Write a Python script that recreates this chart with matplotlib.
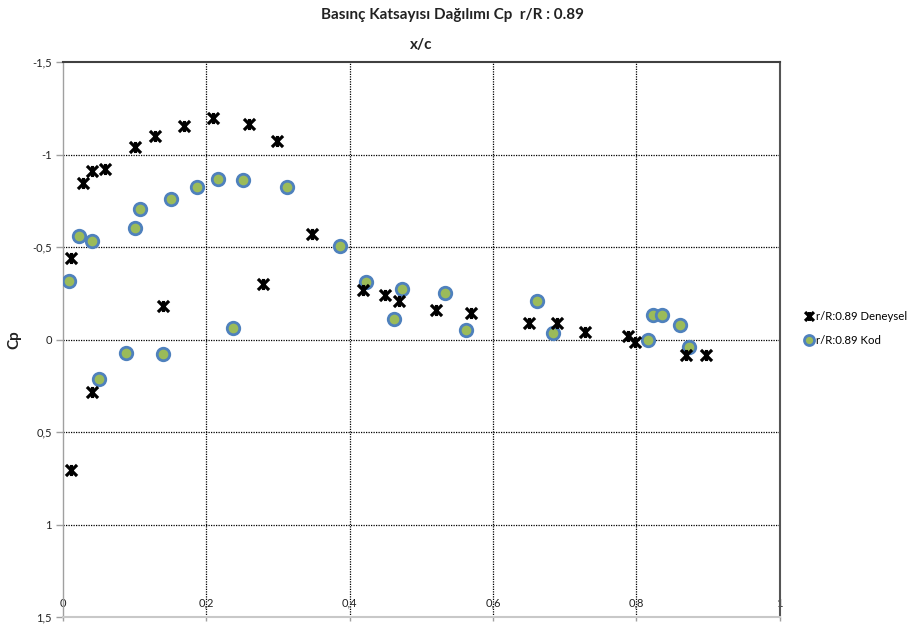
import matplotlib
matplotlib.use("Agg")
import matplotlib.pyplot as plt
from matplotlib.path import Path
from matplotlib.ticker import FixedLocator, FuncFormatter

plt.rcParams['font.family'] = ['Lato', 'DejaVu Sans']

# Measured (Deneysel) pressure coefficients, r/R = 0.89
exp_x = [0.0107, 0.0107, 0.0284, 0.040, 0.0405, 0.0586, 0.100, 0.128, 0.139,
         0.169, 0.209, 0.259, 0.2785, 0.2985, 0.348, 0.4187, 0.4494, 0.4694,
         0.520, 0.570, 0.650, 0.690, 0.729, 0.789, 0.799, 0.870, 0.898]
exp_cp = [-0.438, 0.703, -0.844, -0.911, 0.283, -0.923, -1.041, -1.102, -0.181,
          -1.156, -1.199, -1.163, -0.298, -1.071, -0.569, -0.265, -0.242, -0.206,
          -0.158, -0.145, -0.091, -0.091, -0.043, -0.018, 0.011, 0.082, 0.082]

# Computed (Kod) pressure coefficients, r/R = 0.89
code_x = [0.008, 0.0223, 0.041, 0.0502, 0.0884, 0.100, 0.1075, 0.139, 0.1507,
          0.1866, 0.2168, 0.2368, 0.2512, 0.3126, 0.386, 0.4225, 0.4615, 0.4727,
          0.5327, 0.563, 0.661, 0.6835, 0.817, 0.824, 0.836, 0.861, 0.874]
code_cp = [-0.317, -0.561, -0.531, 0.215, 0.075, -0.604, -0.706, 0.081, -0.762,
           -0.823, -0.866, -0.061, -0.860, -0.823, -0.505, -0.312, -0.111, -0.274,
           -0.249, -0.054, -0.208, -0.034, 0.0, -0.133, -0.133, -0.079, 0.041]

x_ticks = [0, 0.2, 0.4, 0.6, 0.8, 1.0]
y_ticks = [-1.5, -1.0, -0.5, 0.0, 0.5, 1.0, 1.5]

W, H = 913, 629
fig = plt.figure(figsize=(W / 100, H / 100), dpi=100)
x0, x1, y0, y1 = 63, 779.5, 62, 617
ax = fig.add_axes([x0 / W, 1 - y1 / H, (x1 - x0) / W, (y1 - y0) / H])

ax.set_xlim(0, 1)
ax.set_ylim(1.5, -1.5)

# asterisk-like marker: X with a vertical bar
star = Path([(-1, -1), (1, 1), (-1, 1), (1, -1), (0, -1), (0, 1)],
            [Path.MOVETO, Path.LINETO, Path.MOVETO, Path.LINETO, Path.MOVETO, Path.LINETO])

ax.plot(exp_x, exp_cp, linestyle='none', marker=star, markersize=8,
        markeredgewidth=2.3, color='black', label='r/R:0.89 Deneysel', zorder=4)
ax.plot(code_x, code_cp, linestyle='none', marker='o', markersize=9,
        markerfacecolor='#9BBB59', markeredgecolor='#4F81BD', markeredgewidth=2,
        label='r/R:0.89 Kod', zorder=3)

comma = FuncFormatter(lambda v, p: f"{v:g}".replace('.', ','))
ax.xaxis.set_major_locator(FixedLocator(x_ticks))
ax.yaxis.set_major_locator(FixedLocator(y_ticks))
ax.xaxis.set_major_formatter(comma)
ax.yaxis.set_major_formatter(comma)

for g in x_ticks[1:-1]:
    ax.axvline(g, color='black', lw=0.9, linestyle=(0, (1, 1)), zorder=1)
for g in y_ticks[1:-1]:
    ax.axhline(g, color='black', lw=0.9, linestyle=(0, (1, 1)), zorder=1)

ax.tick_params(axis='y', direction='out', length=5, width=1, color='#a0a0a0',
               labelsize=8, pad=3, labelcolor='#222222')
ax.tick_params(axis='x', direction='out', length=3, width=1, color='#a0a0a0',
               labelsize=8, pad=-17, labelcolor='#222222')

ax.spines['top'].set_color('#404040')
ax.spines['top'].set_linewidth(1.5)
ax.spines['right'].set_color('#555555')
ax.spines['right'].set_linewidth(1.5)
ax.spines['left'].set_color('#a0a0a0')
ax.spines['left'].set_linewidth(1)
ax.spines['bottom'].set_color('#c8c8c8')
ax.spines['bottom'].set_linewidth(1.5)

fig.text(0.496, 1 - 15 / H, 'Basınç Katsayısı Dağılımı Cp  r/R : 0.89',
         ha='center', va='center', fontsize=11, fontweight='bold', color='#222222')
ax.text(0.5, 1 + 17 / (y1 - y0), 'x/c', transform=ax.transAxes,
        ha='center', va='center', fontsize=11, fontweight='bold', color='#222222')
fig.text(14 / W, 1 - 340 / H, 'Cp', rotation=90, ha='center', va='center',
         fontsize=11, fontweight='bold', color='#222222')

leg = fig.legend(loc='center left', bbox_to_anchor=(798 / W, 1 - 328.5 / H),
                 frameon=False, fontsize=8.2, handletextpad=0.1,
                 labelspacing=1.2, markerscale=0.8, borderpad=0, handlelength=1)

fig.savefig('out.png', dpi=100)
